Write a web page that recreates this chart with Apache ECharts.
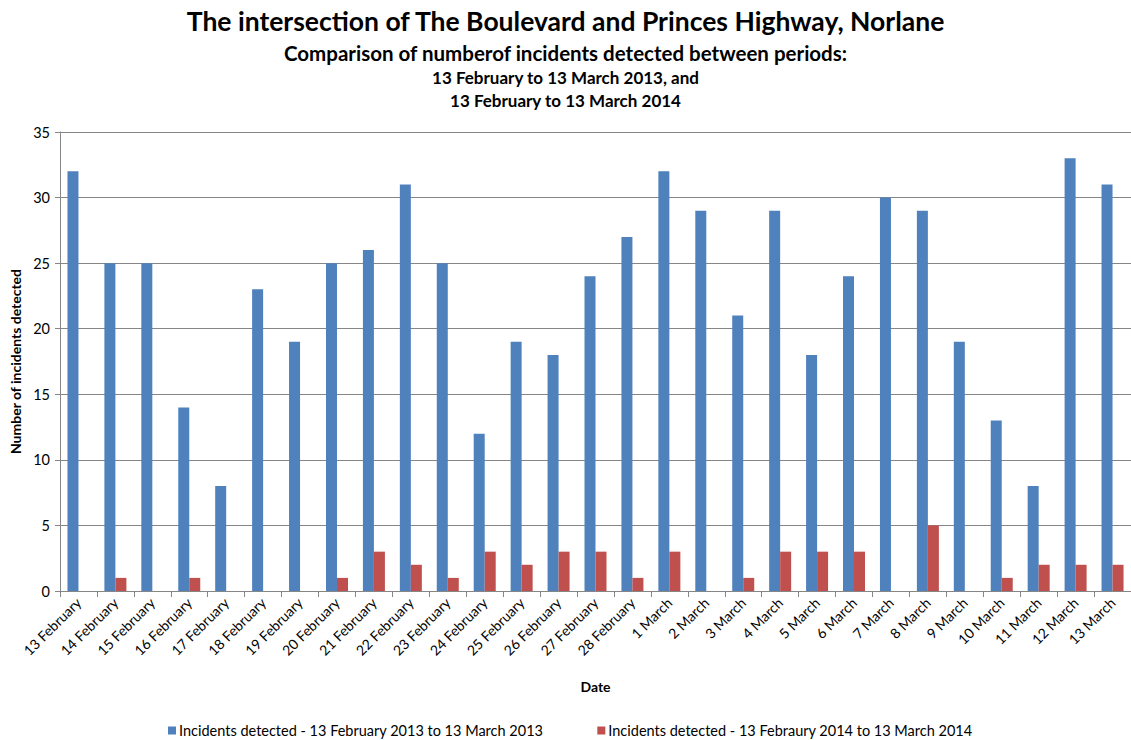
<!DOCTYPE html>
<html>
<head>
<meta charset="utf-8">
<script src="https://cdn.jsdelivr.net/npm/echarts@6/dist/echarts.min.js"></script>
<style>
  html, body { margin: 0; padding: 0; background: #fff; }
  #chart { width: 1131px; height: 740px; }
</style>
</head>
<body>
<div id="chart"></div>
<script>
var dates = ['13 February', '14 February', '15 February', '16 February', '17 February', '18 February',
  '19 February', '20 February', '21 February', '22 February', '23 February', '24 February',
  '25 February', '26 February', '27 February', '28 February', '1 March', '2 March', '3 March',
  '4 March', '5 March', '6 March', '7 March', '8 March', '9 March', '10 March', '11 March',
  '12 March', '13 March'];
var incidents2013 = [32, 25, 25, 14, 8, 23, 19, 25, 26, 31, 25, 12, 19, 18, 24, 27, 32, 29, 21, 29, 18, 24, 30, 29, 19, 13, 8, 33, 31];
var incidents2014 = [0, 1, 0, 1, 0, 0, 0, 1, 3, 2, 1, 3, 2, 3, 3, 1, 3, 0, 1, 3, 3, 3, 0, 5, 0, 1, 2, 2, 2];
var seriesNames = ['Incidents detected - 13 February 2013 to 13 March 2013',
  'Incidents detected - 13 Febraury 2014 to 13 March 2014'];

var font = 'Lato, "Liberation Sans", sans-serif';
var ink = '#000';
var gridColor = '#868686';

var chart = echarts.init(document.getElementById('chart'), null, { renderer: 'svg' });
chart.setOption({
  animation: false,
  textStyle: { fontFamily: font },
  title: [
    { text: 'The intersection of The Boulevard and Princes Highway, Norlane', left: 'center', top: 2,
      textStyle: { fontSize: 26.5, fontWeight: 'bold', color: ink, fontFamily: font } },
    { text: 'Comparison of numberof incidents detected between periods:', left: 'center', top: 37,
      textStyle: { fontSize: 20.5, fontWeight: 'bold', color: ink, fontFamily: font } },
    { text: '13 February to 13 March 2013, and', left: 'center', top: 64,
      textStyle: { fontSize: 17, fontWeight: 'bold', color: ink, fontFamily: font } },
    { text: '13 February to 13 March 2014', left: 'center', top: 87,
      textStyle: { fontSize: 17, fontWeight: 'bold', color: ink, fontFamily: font } }
  ],
  legend: {
    top: 718,
    left: 163,
    itemWidth: 8,
    itemHeight: 8,
    itemGap: 54,
    icon: 'rect',
    textStyle: { fontSize: 14.5, color: ink, fontFamily: font, padding: [0, 0, 0, -2] },
    data: seriesNames
  },
  grid: { left: 60, right: 0, top: 132, bottom: 149, containLabel: false },
  xAxis: {
    type: 'category',
    data: dates,
    name: 'Date',
    nameLocation: 'middle',
    nameGap: 88,
    nameTextStyle: { fontSize: 14, fontWeight: 'bold', color: ink },
    axisLine: { lineStyle: { color: gridColor } },
    axisTick: { show: true, length: 6, lineStyle: { color: gridColor } },
    axisLabel: { rotate: 45, fontSize: 14, color: ink, margin: 9, interval: 0 }
  },
  yAxis: {
    type: 'value',
    min: 0,
    max: 35,
    interval: 5,
    name: 'Number of incidents detected',
    nameLocation: 'middle',
    nameGap: 37,
    nameTextStyle: { fontSize: 14, fontWeight: 'bold', color: ink },
    axisLine: { show: true, lineStyle: { color: gridColor } },
    axisTick: { show: true, length: 5, lineStyle: { color: gridColor } },
    axisLabel: { fontSize: 14.5, color: ink, margin: 10 },
    splitLine: { lineStyle: { color: gridColor, width: 1 } }
  },
  series: [
    {
      type: 'bar',
      name: seriesNames[0],
      data: incidents2013,
      barWidth: 11,
      barGap: '0%',
      itemStyle: { color: '#4F81BD' }
    },
    {
      type: 'bar',
      name: seriesNames[1],
      data: incidents2014,
      barWidth: 11,
      barGap: '0%',
      itemStyle: { color: '#C0504D' }
    }
  ]
});
</script>
</body>
</html>
